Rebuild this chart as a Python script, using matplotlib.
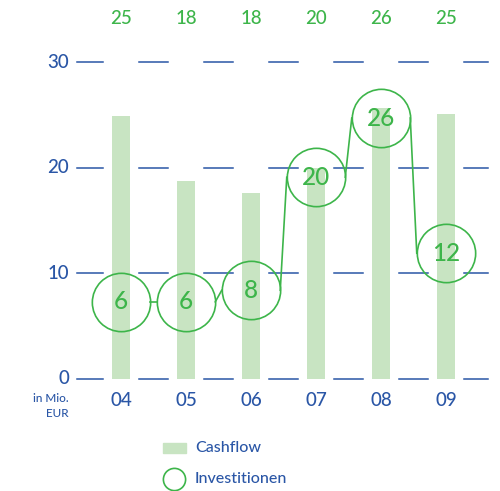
import matplotlib.pyplot as plt
from matplotlib.patches import Rectangle

plt.rcParams['font.family'] = ['Lato', 'DejaVu Sans']
plt.rcParams['font.weight'] = 'medium'

years = ['04', '05', '06', '07', '08', '09']
cashflow = [24.9, 18.7, 17.6, 20.0, 25.6, 25.1]
cashflow_labels = ['25', '18', '18', '20', '26', '25']
invest_pos = [7.3, 7.3, 8.4, 19.1, 24.7, 11.9]
invest_labels = ['6', '6', '8', '20', '26', '12']
yticks = [0, 10, 20, 30]

blue = '#2a56a6'
green = '#3db54a'
bar_green = '#c8e4c2'

fig = plt.figure(figsize=(5.0, 4.91), dpi=100)
ax = fig.add_axes([77 / 500, (491 - 379) / 491, 411 / 500, 317 / 491])
x = list(range(len(years)))
xmin, xmax = -0.677, 5.646

ax.bar(x, cashflow, width=0.29, color=bar_green, zorder=1)

# dashed gridlines between the bars
for t in yticks:
    for k in range(len(years) + 1):
        left = max(k - 0.5 - 0.23, xmin)
        right = min(k - 0.5 + 0.23, xmax)
        ax.plot([left, right], [t, t], color=blue, lw=1.1, zorder=0,
                clip_on=False)
    ax.text(-0.8, t, str(t), color=blue, fontsize=13.5, ha='right', va='center')

# investment circles and connecting line from edge to edge
r = 0.45
ax.plot(x, invest_pos, 'o', ms=42, mfc='none', mec=green, mew=1.2,
        zorder=3, clip_on=False)
for i in range(len(x) - 1):
    ax.plot([x[i] + r, x[i + 1] - r], [invest_pos[i], invest_pos[i + 1]],
            color=green, lw=1.2, zorder=3)
for xi, yi, lab in zip(x, invest_pos, invest_labels):
    ax.text(xi, yi, lab, color=green, fontsize=17.5, ha='center', va='center',
            zorder=4)

# cashflow labels at the top
for xi, lab in zip(x, cashflow_labels):
    ax.text(xi, 34.1, lab, color=green, fontsize=13.5, ha='center', va='center',
            clip_on=False)

# year labels
for xi, lab in zip(x, years):
    ax.text(xi, -2.05, lab, color=blue, fontsize=13.5, ha='center', va='center')
ax.text(-0.8, -2.55, 'in Mio.\nEUR', color=blue, fontsize=8.5, ha='right',
        va='center', linespacing=1.35)

ax.set_xlim(xmin, xmax)
ax.set_ylim(0, 30)
ax.axis('off')

# legend
fig.patches.append(Rectangle((163 / 500, 1 - 453 / 491), 23 / 500, 10 / 491,
                             transform=fig.transFigure, color=bar_green))
fig.text(195 / 500, 1 - 448 / 491, 'Cashflow', color=blue, fontsize=11.5,
         va='center')
fig.lines.append(plt.Line2D([174 / 500], [1 - 479 / 491], marker='o', ms=16,
                            mfc='none', mec=green, mew=1.2,
                            transform=fig.transFigure))
fig.text(195 / 500, 1 - 479 / 491, 'Investitionen', color=blue, fontsize=11.5,
         va='center')

fig.savefig('out.png', dpi=100)
